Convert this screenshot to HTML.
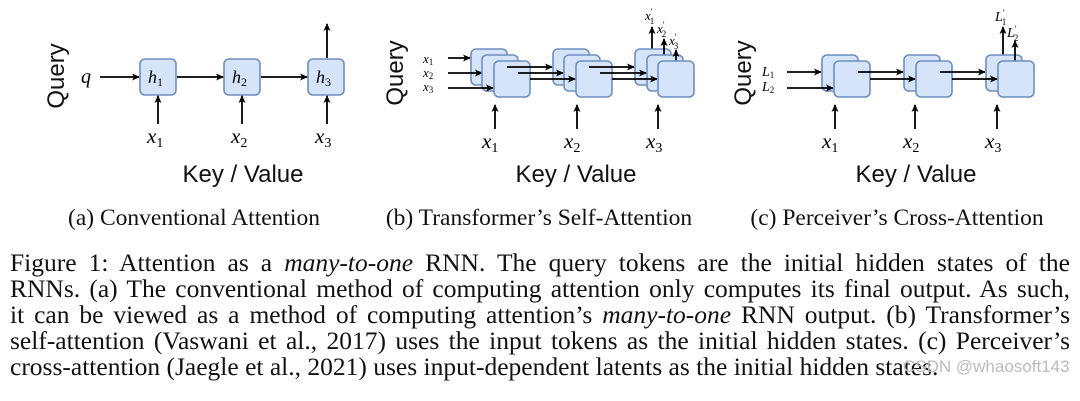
<!DOCTYPE html>
<html><head><meta charset="utf-8"><style>
html,body{margin:0;padding:0;background:#fff;width:1080px;height:401px;overflow:hidden}
svg{position:absolute;left:0;top:0}
.cap{position:absolute;left:10px;top:250px;width:1060px;font-family:"Liberation Serif",serif;font-size:25.5px;line-height:26px;color:#111}
.cap div{text-align:justify;text-align-last:justify;white-space:nowrap}
.cap div.last{text-align-last:left}
.wm{position:absolute;left:903px;top:357px;font-family:"Liberation Sans",sans-serif;font-size:17px;color:#bbb}
</style></head><body>
<svg width="1080" height="401" viewBox="0 0 1080 401">
<defs>
<marker id="a" markerWidth="8" markerHeight="8" refX="7" refY="4" orient="auto" markerUnits="userSpaceOnUse">
<path d="M0,0.5 L8,4 L0,7.5 L2,4 Z" fill="#000"/></marker>
<style>
.b{fill:#d6e4fa;stroke:#6e8fc0;stroke-width:1.6}
.l{stroke:#000;stroke-width:1.8;fill:none}
.m{font-family:"Liberation Serif",serif;font-style:italic}
.s{font-family:"Liberation Sans",sans-serif;font-size:24px;fill:#111}
.c{font-family:"Liberation Serif",serif;font-size:23.5px;fill:#111}
</style>
</defs>
<!-- Panel a -->
<text class="s" transform="translate(64,76) rotate(-90)" text-anchor="middle">Query</text>
<text class="m" x="81" y="83" font-size="20">q</text>
<line class="l" x1="100" y1="77" x2="139" y2="77" marker-end="url(#a)"/>
<rect class="b" x="140" y="59" width="36" height="36" rx="5"/>
<rect class="b" x="224" y="59" width="36" height="36" rx="5"/>
<rect class="b" x="308" y="59" width="36" height="36" rx="5"/>
<text class="m" x="148" y="83" font-size="18">h<tspan font-size="12" font-style="normal" dy="3">1</tspan></text>
<text class="m" x="232" y="83" font-size="18">h<tspan font-size="12" font-style="normal" dy="3">2</tspan></text>
<text class="m" x="316" y="83" font-size="18">h<tspan font-size="12" font-style="normal" dy="3">3</tspan></text>
<line class="l" x1="177" y1="77" x2="223" y2="77" marker-end="url(#a)"/>
<line class="l" x1="261" y1="77" x2="307" y2="77" marker-end="url(#a)"/>
<line class="l" x1="327" y1="58" x2="327" y2="24" marker-end="url(#a)"/>
<line class="l" x1="158" y1="124" x2="158" y2="96" marker-end="url(#a)"/>
<line class="l" x1="242" y1="124" x2="242" y2="96" marker-end="url(#a)"/>
<line class="l" x1="327" y1="124" x2="327" y2="96" marker-end="url(#a)"/>
<text class="m" x="147" y="143" font-size="21">x<tspan font-size="14" font-style="normal" dy="4">1</tspan></text>
<text class="m" x="231" y="143" font-size="21">x<tspan font-size="14" font-style="normal" dy="4">2</tspan></text>
<text class="m" x="315" y="143" font-size="21">x<tspan font-size="14" font-style="normal" dy="4">3</tspan></text>
<text class="s" x="243" y="182" text-anchor="middle">Key / Value</text>
<text class="c" x="194" y="225" text-anchor="middle">(a) Conventional Attention</text>

<!-- Panel b -->
<text class="s" transform="translate(403,73) rotate(-90)" text-anchor="middle">Query</text>
<text class="m" x="423" y="63" font-size="13">x<tspan font-size="9" font-style="normal" dy="2">1</tspan></text>
<text class="m" x="423" y="77" font-size="13">x<tspan font-size="9" font-style="normal" dy="2">2</tspan></text>
<text class="m" x="423" y="91" font-size="13">x<tspan font-size="9" font-style="normal" dy="2">3</tspan></text>
<line class="l" x1="448" y1="58" x2="470" y2="58" marker-end="url(#a)"/>
<rect class="b" x="471" y="49" width="36" height="36" rx="5"/>
<line class="l" x1="448" y1="73" x2="482" y2="73" marker-end="url(#a)"/>
<rect class="b" x="482" y="55" width="36" height="36" rx="5"/>
<line class="l" x1="448" y1="88" x2="493" y2="88" marker-end="url(#a)"/>
<rect class="b" x="494" y="61" width="36" height="36" rx="5"/>
<line class="l" x1="507" y1="67" x2="552" y2="67" marker-end="url(#a)"/>
<rect class="b" x="553" y="49" width="36" height="36" rx="5"/>
<line class="l" x1="518" y1="73" x2="563" y2="73" marker-end="url(#a)"/>
<rect class="b" x="564" y="55" width="36" height="36" rx="5"/>
<line class="l" x1="530" y1="79" x2="575" y2="79" marker-end="url(#a)"/>
<rect class="b" x="576" y="61" width="36" height="36" rx="5"/>
<line class="l" x1="589" y1="67" x2="634" y2="67" marker-end="url(#a)"/>
<line class="l" x1="652" y1="49" x2="652" y2="27" marker-end="url(#a)"/>
<rect class="b" x="635" y="49" width="36" height="36" rx="5"/>
<line class="l" x1="600" y1="73" x2="646" y2="73" marker-end="url(#a)"/>
<line class="l" x1="664" y1="55" x2="664" y2="39" marker-end="url(#a)"/>
<rect class="b" x="647" y="55" width="36" height="36" rx="5"/>
<line class="l" x1="612" y1="79" x2="657" y2="79" marker-end="url(#a)"/>
<line class="l" x1="676" y1="61" x2="676" y2="50" marker-end="url(#a)"/>
<rect class="b" x="658" y="61" width="36" height="36" rx="5"/>
<text class="m" x="645" y="20" font-size="13">x<tspan font-size="9" font-style="normal" dy="-5">′</tspan><tspan font-size="9" font-style="normal" dx="-3" dy="9">1</tspan></text>
<text class="m" x="657" y="33" font-size="13">x<tspan font-size="9" font-style="normal" dy="-5">′</tspan><tspan font-size="9" font-style="normal" dx="-3" dy="9">2</tspan></text>
<text class="m" x="669" y="45" font-size="13">x<tspan font-size="9" font-style="normal" dy="-5">′</tspan><tspan font-size="9" font-style="normal" dx="-3" dy="9">3</tspan></text>
<line class="l" x1="495" y1="129" x2="495" y2="105" marker-end="url(#a)"/>
<line class="l" x1="577" y1="129" x2="577" y2="105" marker-end="url(#a)"/>
<line class="l" x1="658" y1="129" x2="658" y2="105" marker-end="url(#a)"/>
<text class="m" x="482" y="148" font-size="21">x<tspan font-size="14" font-style="normal" dy="4">1</tspan></text>
<text class="m" x="564" y="148" font-size="21">x<tspan font-size="14" font-style="normal" dy="4">2</tspan></text>
<text class="m" x="646" y="148" font-size="21">x<tspan font-size="14" font-style="normal" dy="4">3</tspan></text>
<text class="s" x="576" y="182" text-anchor="middle">Key / Value</text>
<text class="c" x="539" y="225" text-anchor="middle">(b) Transformer’s Self-Attention</text>

<!-- Panel c -->
<text class="s" transform="translate(751,73) rotate(-90)" text-anchor="middle">Query</text>
<text class="m" x="762" y="76" font-size="14">L<tspan font-size="9" font-style="normal" dy="2">1</tspan></text>
<text class="m" x="762" y="91" font-size="14">L<tspan font-size="9" font-style="normal" dy="2">2</tspan></text>
<line class="l" x1="787" y1="72" x2="821" y2="72" marker-end="url(#a)"/>
<rect class="b" x="822" y="55" width="36" height="36" rx="5"/>
<line class="l" x1="787" y1="88" x2="833" y2="88" marker-end="url(#a)"/>
<rect class="b" x="834" y="61" width="36" height="36" rx="5"/>
<line class="l" x1="858" y1="72" x2="903" y2="72" marker-end="url(#a)"/>
<rect class="b" x="904" y="55" width="36" height="36" rx="5"/>
<line class="l" x1="870" y1="79" x2="915" y2="79" marker-end="url(#a)"/>
<rect class="b" x="916" y="61" width="36" height="36" rx="5"/>
<line class="l" x1="940" y1="72" x2="985" y2="72" marker-end="url(#a)"/>
<line class="l" x1="1003" y1="55" x2="1003" y2="27" marker-end="url(#a)"/>
<rect class="b" x="986" y="55" width="36" height="36" rx="5"/>
<line class="l" x1="952" y1="79" x2="997" y2="79" marker-end="url(#a)"/>
<line class="l" x1="1015" y1="61" x2="1015" y2="41" marker-end="url(#a)"/>
<rect class="b" x="998" y="61" width="36" height="36" rx="5"/>
<text class="m" x="995" y="21" font-size="14">L<tspan font-size="9" font-style="normal" dy="-5">′</tspan><tspan font-size="9" font-style="normal" dx="-3" dy="9">1</tspan></text>
<text class="m" x="1007" y="37" font-size="14">L<tspan font-size="9" font-style="normal" dy="-5">′</tspan><tspan font-size="9" font-style="normal" dx="-3" dy="9">2</tspan></text>
<line class="l" x1="835" y1="129" x2="835" y2="105" marker-end="url(#a)"/>
<line class="l" x1="915" y1="129" x2="915" y2="105" marker-end="url(#a)"/>
<line class="l" x1="997" y1="129" x2="997" y2="105" marker-end="url(#a)"/>
<text class="m" x="822" y="148" font-size="21">x<tspan font-size="14" font-style="normal" dy="4">1</tspan></text>
<text class="m" x="903" y="148" font-size="21">x<tspan font-size="14" font-style="normal" dy="4">2</tspan></text>
<text class="m" x="985" y="148" font-size="21">x<tspan font-size="14" font-style="normal" dy="4">3</tspan></text>
<text class="s" x="916" y="182" text-anchor="middle">Key / Value</text>
<text class="c" x="897" y="225" text-anchor="middle">(c) Perceiver’s Cross-Attention</text>
</svg>
<div class="cap">
<div>Figure 1: Attention as a <i>many-to-one</i> RNN. The query tokens are the initial hidden states of the</div>
<div>RNNs. (a) The conventional method of computing attention only computes its final output. As such,</div>
<div>it can be viewed as a method of computing attention’s <i>many-to-one</i> RNN output. (b) Transformer’s</div>
<div>self-attention (Vaswani et al., 2017) uses the input tokens as the initial hidden states. (c) Perceiver’s</div>
<div class="last">cross-attention (Jaegle et al., 2021) uses input-dependent latents as the initial hidden states.</div>
</div>
<div class="wm">CSDN @whaosoft143</div>
</body></html>
